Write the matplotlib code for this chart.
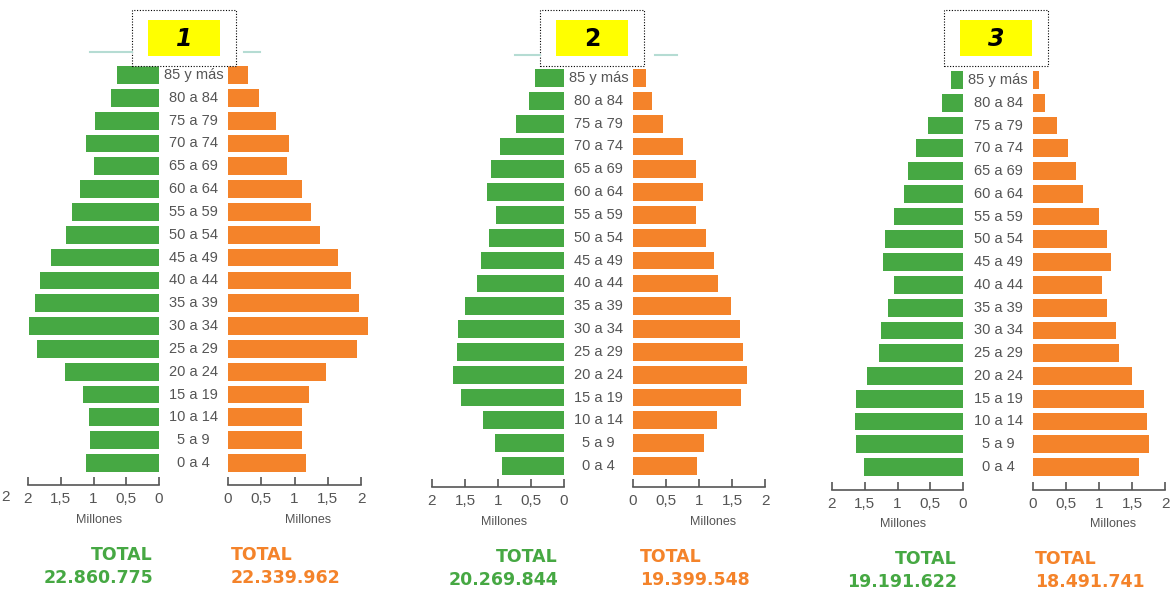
import matplotlib
matplotlib.use("Agg")
import matplotlib.pyplot as plt
from matplotlib.patches import Rectangle
from matplotlib.lines import Line2D

# age groups, bottom to top
ages = ["0 a 4", "5 a 9", "10 a 14", "15 a 19", "20 a 24", "25 a 29", "30 a 34",
        "35 a 39", "40 a 44", "45 a 49", "50 a 54", "55 a 59", "60 a 64",
        "65 a 69", "70 a 74", "75 a 79", "80 a 84", "85 y más"]

# millions, bottom (0 a 4) to top (85 y más)
men_1 = [1.11, 1.05, 1.07, 1.16, 1.43, 1.86, 1.98, 1.89, 1.82, 1.65, 1.42, 1.33,
         1.21, 1.00, 1.11, 0.98, 0.73, 0.64]
women_1 = [1.17, 1.11, 1.11, 1.22, 1.47, 1.94, 2.10, 1.97, 1.85, 1.65, 1.39, 1.25,
           1.12, 0.88, 0.91, 0.72, 0.46, 0.30]
men_2 = [0.94, 1.05, 1.23, 1.56, 1.68, 1.62, 1.61, 1.50, 1.32, 1.26, 1.14, 1.03,
         1.17, 1.11, 0.97, 0.73, 0.53, 0.44]
women_2 = [0.97, 1.07, 1.27, 1.64, 1.73, 1.67, 1.62, 1.48, 1.29, 1.22, 1.10, 0.95,
           1.06, 0.95, 0.75, 0.46, 0.29, 0.20]
men_3 = [1.51, 1.63, 1.65, 1.63, 1.47, 1.28, 1.25, 1.15, 1.05, 1.22, 1.19, 1.05,
         0.90, 0.84, 0.72, 0.53, 0.32, 0.18]
women_3 = [1.61, 1.75, 1.73, 1.68, 1.50, 1.30, 1.26, 1.12, 1.05, 1.18, 1.12, 1.00,
           0.76, 0.65, 0.53, 0.36, 0.18, 0.09]

totals_men = ["22.860.775", "20.269.844", "19.191.622"]
totals_women = ["22.339.962", "19.399.548", "18.491.741"]
panel_ids = ["1", "2", "3"]

tick_vals = [0, 0.5, 1, 1.5, 2]
tick_labels = ["0", "0,5", "1", "1,5", "2"]

GREEN = "#46a843"
ORANGE = "#f4832a"
GREY = "#555555"
W, H = 1174, 591
narrow = ["Liberation Sans", "DejaVu Sans"]

fig = plt.figure(figsize=(W / 100, H / 100), dpi=100)
fig.patch.set_facecolor("white")


def px_axes(x0, x1, ytop, ybot):
    return fig.add_axes([x0 / W, 1 - ybot / H, (x1 - x0) / W, (ybot - ytop) / H])


def ftext(x, y, s, **kw):
    fig.text(x / W, 1 - y / H, s, **kw)


# layout per panel (pixels): left axis 2->0, right axis 0->2, row centres, axis line
panels = [
    dict(men=men_1, women=women_1, lx=(28, 159), rx=(228, 361), top=75, bot=463, axis=485,
         tl=153, tr=231, ty=(555, 578), mil=520, box=(132, 236), italic=True),
    dict(men=men_2, women=women_2, lx=(432, 564), rx=(633, 765), top=78, bot=466, axis=487,
         tl=558, tr=640, ty=(557, 580), mil=522, box=(540, 644), italic=False),
    dict(men=men_3, women=women_3, lx=(832, 963), rx=(1033, 1165), top=80, bot=467, axis=490,
         tl=957, tr=1035, ty=(559, 582), mil=524, box=(944, 1048), italic=True),
]

y = list(range(len(ages)))

for i, p in enumerate(panels):
    step = (p["bot"] - p["top"]) / (len(ages) - 1)
    ytop = p["top"] - 0.5 * step
    ylo = -(p["axis"] - p["bot"]) / step

    for side in ("L", "R"):
        if side == "L":
            ax = px_axes(p["lx"][0], p["lx"][1], ytop, p["axis"])
            ax.barh(y, p["men"], height=0.78, color=GREEN, edgecolor="none")
            ax.set_xlim(2, 0)
        else:
            ax = px_axes(p["rx"][0], p["rx"][1], ytop, p["axis"])
            ax.barh(y, p["women"], height=0.78, color=ORANGE, edgecolor="none")
            ax.set_xlim(0, 2)
        ax.set_ylim(ylo, len(ages) - 0.5)
        ax.patch.set_alpha(0)
        for s in ("top", "left", "right"):
            ax.spines[s].set_visible(False)
        ax.spines["bottom"].set_color(GREY)
        ax.spines["bottom"].set_linewidth(1.2)
        ax.set_yticks([])
        ax.set_xticks(tick_vals)
        ax.set_xticklabels(tick_labels, family=narrow, fontsize=11, color=GREY)
        ax.tick_params(axis="x", direction="in", length=6, width=1.2, color=GREY, pad=5)
        for b in ax.patches:
            b.set_clip_on(False)
        cx = (p["lx"][0] + p["lx"][1]) / 2 + 6 if side == "L" else (p["rx"][0] + p["rx"][1]) / 2 + 14
        ftext(cx, p["mil"], "Millones", family=narrow, fontsize=9, color=GREY,
              ha="center", va="center")

    # age labels between the halves
    mid = (p["lx"][1] + p["rx"][0]) / 2
    for k, a in enumerate(ages):
        ftext(mid, p["bot"] - k * step, a, family=narrow, fontsize=10.5, color=GREY,
              ha="center", va="center")

    # totals
    ftext(p["tl"], p["ty"][0], "TOTAL", fontsize=12.5, weight="bold", color=GREEN,
          ha="right", va="center")
    ftext(p["tl"], p["ty"][1], totals_men[i], fontsize=12.5, weight="bold", color=GREEN,
          ha="right", va="center")
    ftext(p["tr"], p["ty"][0], "TOTAL", fontsize=12.5, weight="bold", color=ORANGE,
          ha="left", va="center")
    ftext(p["tr"], p["ty"][1], totals_women[i], fontsize=12.5, weight="bold", color=ORANGE,
          ha="left", va="center")

    # numbered yellow label in dotted frame
    bx0, bx1 = p["box"]
    fig.add_artist(Rectangle((bx0 / W, 1 - 66 / H), (bx1 - bx0) / W, 56 / H,
                             transform=fig.transFigure, fill=True, facecolor="white",
                             edgecolor="black", linestyle=(0, (1, 1.5)), linewidth=0.8))
    fig.add_artist(Rectangle(((bx0 + 16) / W, 1 - 56 / H), (bx1 - bx0 - 32) / W, 36 / H,
                             transform=fig.transFigure, facecolor="#ffff00", edgecolor="none"))
    ftext((bx0 + bx1) / 2, 39, panel_ids[i], fontsize=17, weight="bold",
          style="italic" if p["italic"] else "normal", color="black",
          ha="center", va="center")

# faint teal rules behind the frames
for x0, x1, yy in [(90, 132, 52), (244, 260, 52), (515, 540, 55), (655, 677, 55)]:
    fig.add_artist(Line2D([x0 / W, x1 / W], [1 - yy / H, 1 - yy / H],
                          transform=fig.transFigure, color="#b5dcd3", linewidth=1.5))

# clipped leftover tick label at the far left edge
ftext(6, 497, "2", family=narrow, fontsize=11, color=GREY, ha="center", va="center")

fig.savefig("out.png", dpi=100, facecolor="white")
